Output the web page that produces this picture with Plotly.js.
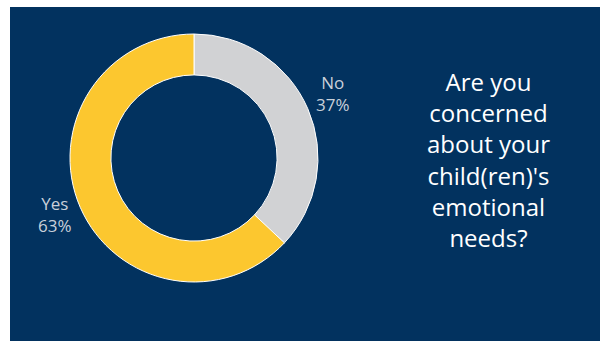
<!DOCTYPE html>
<html><head><meta charset="utf-8">
<script src="https://cdn.plot.ly/plotly-3.0.1.min.js"></script>
<style>html,body{margin:0;padding:0;background:#fff}#c{width:600px;height:341px}</style>
</head><body><div id="c"></div>
<script>
const categories = ["No", "Yes"];
const percents = [37, 63];
const sliceColors = ["#d1d2d4", "#fcc72f"];
const titleText = "Are you<br>concerned<br>about your<br>child(ren)'s<br>emotional<br>needs?";

const W = 600, H = 341;
const cx = 194, cy = 158, r = 124;
const data = [{
  type: "pie",
  labels: categories,
  values: percents,
  hole: 0.67,
  sort: false,
  direction: "clockwise",
  rotation: 0,
  marker: {colors: sliceColors, line: {color: "#ffffff", width: 1}},
  textinfo: "none",
  hoverinfo: "none",
  showlegend: false,
  domain: {x: [(cx - r) / W, (cx + r) / W], y: [1 - (cy + r) / H, 1 - (cy - r) / H]}
}];

// label annotations placed along each slice's mid-angle
const total = percents.reduce((a, b) => a + b, 0);
const labelAnns = [];
let cum = 0;
percents.forEach((v, i) => {
  const mid = (cum + v / 2) / total * 2 * Math.PI;
  cum += v;
  const lr = 152;
  const px = cx + lr * Math.sin(mid);
  const py = cy - lr * Math.cos(mid) - 4;
  labelAnns.push({
    text: categories[i] + "<br>" + v + "%",
    xref: "paper", yref: "paper", x: px / W, y: 1 - py / H,
    xanchor: "center", yanchor: "middle", showarrow: false, align: "center",
    font: {family: "Open Sans", size: 17, color: "#c9d0da"}
  });
});

const layout = {
  width: W, height: H,
  margin: {l: 0, r: 0, t: 0, b: 0},
  paper_bgcolor: "#ffffff",
  shapes: [{type: "rect", xref: "paper", yref: "paper", x0: 10 / W, x1: 1, y0: 0, y1: 1 - 7 / H,
    fillcolor: "#02325f", line: {width: 0}, layer: "below"}],
  annotations: labelAnns.concat([{
    text: titleText, xref: "paper", yref: "paper", x: 488 / W, y: 1 - 159 / H,
    xanchor: "center", yanchor: "middle", showarrow: false, align: "center",
    font: {family: "Open Sans", size: 24, color: "#ffffff"}
  }])
};
Plotly.newPlot("c", data, layout, {staticPlot: true});
</script></body></html>
